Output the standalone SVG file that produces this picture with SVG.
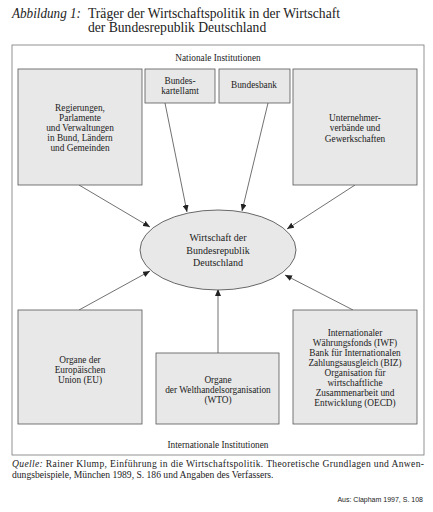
<svg xmlns="http://www.w3.org/2000/svg" width="433" height="512" viewBox="0 0 433 512">
<style>
text{font-family:"Liberation Serif","Times New Roman",serif;fill:#222}
.t{font-size:13.6px}
.b{font-size:9.3px;text-anchor:middle}
.e{font-size:10px;text-anchor:middle}
.box{fill:#e8e8e8;stroke:#555;stroke-width:0.8}
.c{stroke:#333;stroke-width:0.7;fill:none;marker-end:url(#ah)}
</style>
<defs>
<marker id="ah" markerWidth="8" markerHeight="6" refX="7" refY="3" orient="auto" markerUnits="userSpaceOnUse">
<path d="M0,0 L7,3 L0,6 z" fill="#222"/>
</marker>
</defs>
<rect width="433" height="512" fill="#fff"/>
<text class="t" x="12" y="18" font-style="italic" font-size="12.8" textLength="69" lengthAdjust="spacingAndGlyphs">Abbildung 1:</text>
<text class="t"><tspan x="88" y="18">Träger der Wirtschaftspolitik in der Wirtschaft</tspan><tspan x="88" y="32">der Bundesrepublik Deutschland</tspan></text>
<rect x="12" y="45" width="412" height="410" fill="none" stroke="#777" stroke-width="0.8"/>
<text class="b" x="218" y="61" font-size="11">Nationale Institutionen</text>
<text class="b" x="218" y="448" font-size="11.5">Internationale Institutionen</text>
<g id="connectors">
<line class="c" x1="79" y1="185" x2="150" y2="227"/>
<line class="c" x1="165" y1="103" x2="187" y2="212"/>
<line class="c" x1="268" y1="103" x2="242" y2="211"/>
<line class="c" x1="355" y1="185" x2="287" y2="229"/>
<line class="c" x1="79" y1="310" x2="150" y2="271"/>
<line class="c" x1="218" y1="353" x2="218" y2="289"/>
<line class="c" x1="353" y1="310" x2="285" y2="275"/>
</g>
<g id="regierungen">
<rect class="box" x="18" y="69" width="124" height="116"/>
<text class="b" x="80" y="111">Regierungen,</text>
<text class="b" x="80" y="121">Parlamente</text>
<text class="b" x="80" y="131">und Verwaltungen</text>
<text class="b" x="80" y="141">in Bund, Ländern</text>
<text class="b" x="80" y="151">und Gemeinden</text>
</g>
<g id="bundeskartellamt">
<rect class="box" x="145" y="69" width="70" height="34"/>
<text class="b" x="180" y="84">Bundes-</text>
<text class="b" x="180" y="94">kartellamt</text>
</g>
<g id="bundesbank">
<rect class="box" x="219" y="69" width="71" height="34"/>
<text class="b" x="254" y="88">Bundesbank</text>
</g>
<g id="unternehmer">
<rect class="box" x="293" y="69" width="124" height="116"/>
<text class="b" x="355" y="121">Unternehmer-</text>
<text class="b" x="355" y="131">verbände und</text>
<text class="b" x="355" y="142">Gewerkschaften</text>
</g>
<g id="wirtschaft">
<ellipse cx="218" cy="250" rx="78" ry="40" fill="#e8e8e8" stroke="#444" stroke-width="0.8"/>
<text class="e" x="218" y="241">Wirtschaft der</text>
<text class="e" x="218" y="254">Bundesrepublik</text>
<text class="e" x="218" y="266">Deutschland</text>
</g>
<g id="eu">
<rect class="box" x="18" y="310" width="124" height="114"/>
<text class="b" x="80" y="363">Organe der</text>
<text class="b" x="80" y="373">Europäischen</text>
<text class="b" x="80" y="383">Union (EU)</text>
</g>
<g id="wto">
<rect class="box" x="156" y="353" width="123" height="71"/>
<text class="b" x="218" y="383">Organe</text>
<text class="b" x="218" y="393">der Welthandelsorganisation</text>
<text class="b" x="218" y="403">(WTO)</text>
</g>
<g id="iwf">
<rect class="box" x="293" y="310" width="124" height="114"/>
<text class="b" x="355" y="336">Internationaler</text>
<text class="b" x="355" y="346">Währungsfonds (IWF)</text>
<text class="b" x="355" y="356">Bank für Internationalen</text>
<text class="b" x="355" y="366">Zahlungsausgleich (BIZ)</text>
<text class="b" x="355" y="376">Organisation für</text>
<text class="b" x="355" y="386">wirtschaftliche</text>
<text class="b" x="355" y="396">Zusammenarbeit und</text>
<text class="b" x="355" y="406">Entwicklung (OECD)</text>
</g>
<text x="12" y="467" font-size="9.6" textLength="412" lengthAdjust="spacing"><tspan font-style="italic">Quelle:</tspan> Rainer Klump, Einführung in die Wirtschaftspolitik. Theoretische Grundlagen und Anwen-</text>
<text x="12" y="478" font-size="9.6">dungsbeispiele, München 1989, S. 186 und Angaben des Verfassers.</text>
<text x="423" y="502" font-size="7" text-anchor="end" style="font-family:'Liberation Sans',Arial,sans-serif">Aus: Clapham 1997, S. 108</text>
</svg>
